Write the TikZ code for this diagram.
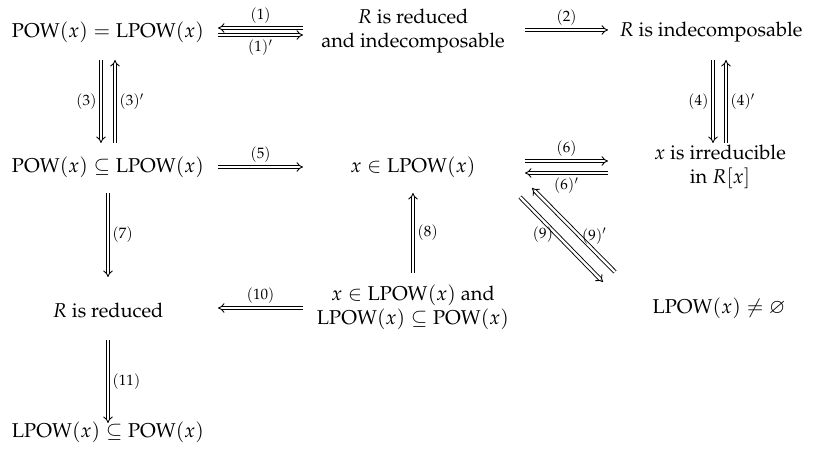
\documentclass[tikz,border=0pt]{standalone}
\usepackage[T1]{fontenc}
\usepackage{mathpazo}
\usepackage{amssymb}
\usetikzlibrary{arrows.meta}
\begin{document}
\begin{tikzpicture}[x=0.5pt,y=-0.5pt,
  every node/.style={font=\fontsize{10}{12}\selectfont, inner sep=0pt},
  txt/.style={align=center},
  imp/.style={double, double distance=1.2pt, line width=0.45pt, -{Implies[scale=1.25]}},
  lab/.style={font=\fontsize{7.5}{9}\selectfont, inner sep=2pt}]
\useasboundingbox (0,0) rectangle (818,453);
\node[txt] (A) at (108,32) {$\mathrm{POW}(x)=\mathrm{LPOW}(x)$};
\node[txt] (B) at (413,31) {$R$ is reduced\\and indecomposable};
\node[txt] (C) at (711,32) {$R$ is indecomposable};
\node[txt] (D) at (108,167) {$\mathrm{POW}(x)\subseteq\mathrm{LPOW}(x)$};
\node[txt] (E) at (413,167) {$x\in\mathrm{LPOW}(x)$};
\node[txt] (F) at (720,167) {$x$ is irreducible\\in $R[x]$};
\node[txt] (G) at (108,310) {$R$ is reduced};
\node[txt] (H) at (413,307) {$x\in\mathrm{LPOW}(x)$ and\\$\mathrm{LPOW}(x)\subseteq\mathrm{POW}(x)$};
\node[txt] (I) at (719,308) {$\mathrm{LPOW}(x)\neq\varnothing$};
\node[txt] (J) at (108,432) {$\mathrm{LPOW}(x)\subseteq\mathrm{POW}(x)$};
% (1)
\draw[imp] ([shift={(-110,-3)}]B.center) -- node[lab,above]{$(1)$} ([shift={(110,-4)}]A.center);
\draw[imp] ([shift={(110,3)}]A.center) -- node[lab,below]{$(1)'$} ([shift={(-110,4)}]B.center);
% (2)
\draw[imp] ([shift={(112,-1)}]B.center) -- node[lab,above]{$(2)$} ([shift={(-103,-2)}]C.center);
% (3)
\draw[imp] ([shift={(-7,28)}]A.center) -- node[lab,left]{$(3)$} ([shift={(-7,-24)}]D.center);
\draw[imp] ([shift={(7,-24)}]D.center) -- node[lab,right]{$(3)'$} ([shift={(7,28)}]A.center);
% (4)
\draw[imp] ([shift={(2,28)}]C.center) -- node[lab,left]{$(4)$} ([shift={(-7,-24)}]F.center);
\draw[imp] ([shift={(6,-24)}]F.center) -- node[lab,right]{$(4)'$} ([shift={(15,28)}]C.center);
% (5)
\draw[imp] ([shift={(110,0)}]D.center) -- node[lab,above]{$(5)$} ([shift={(-110,0)}]E.center);
% (6)
\draw[imp] ([shift={(112,-6)}]E.center) -- node[lab,above]{$(6)$} ([shift={(-112,-6)}]F.center);
\draw[imp] ([shift={(-112,6)}]F.center) -- node[lab,below]{$(6)'$} ([shift={(112,6)}]E.center);
% (7)
\draw[imp] ([shift={(0,26)}]D.center) -- node[lab,right]{$(7)$} ([shift={(0,-33)}]G.center);
% (8)
\draw[imp] ([shift={(0,-34)}]H.center) -- node[lab,right]{$(8)$} ([shift={(0,26)}]E.center);
% (9)
\draw[imp] ([shift={(107,30)}]E.center) -- node[lab,left,xshift=-2pt,yshift=2.5pt]{$(9)$} ([shift={(-116,-26)}]I.center);
\draw[imp] ([shift={(-104,-36)}]I.center) -- node[lab,right,xshift=2pt,yshift=-3pt]{$(9)'$} ([shift={(119,21)}]E.center);
% (10)
\draw[imp] ([shift={(-110,1)}]H.center) -- node[lab,above]{$(10)$} ([shift={(110,-2)}]G.center);
% (11)
\draw[imp] ([shift={(0,30)}]G.center) -- node[lab,right]{$(11)$} ([shift={(0,-9)}]J.center);
\end{tikzpicture}
\end{document}
